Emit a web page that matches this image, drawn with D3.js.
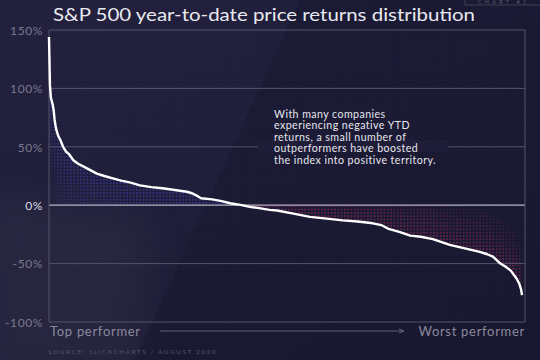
<!DOCTYPE html>
<html><head><meta charset="utf-8">
<script src="https://cdn.jsdelivr.net/npm/d3@7"></script>
<style>
html,body{margin:0;padding:0;background:#1e1c36;}
svg{display:block;}
text{font-family:"Lato","Noto Sans",sans-serif;}
</style></head>
<body>
<svg id="chart" width="540" height="360"></svg>
<script>
// ---- data ----
const ranks  = [1,2,3,5,6,7,8,9,11,13,16,19,22,27,32,38,45,52,60,69,78,87,98,110,122,135,148,154,160,163,175,185,194,205,215,225,236,244,260,279,297,314,330,346,355,362,375,386,397,410,428,444,460,468,474,482,488,493,499,502,504,505];
const returns = [144,103,92,86,81,73,68,64,59,56,50,46,44,38.5,35.5,33,30,27,25,23,21,19.5,17,15.5,14.5,13,11.5,10,7.5,6,5,3.5,1.7,0.3,-1.4,-2.5,-4,-4.5,-7,-10,-11.5,-13,-14,-15.5,-17,-20,-23,-26,-27,-29,-34,-37,-40,-42,-44,-50,-53,-56,-62.5,-67,-72,-77];
const yTicks = [150,100,50,0,-50,-100];
const yTickLabels = ["150%","100%","50%","0%","-50%","-100%"];
const title = "S&P 500 year-to-date price returns distribution";
const note = ["With many companies","experiencing negative YTD","returns, a small number of","outperformers have boosted","the index into positive territory."];
const xLabels = ["Top performer","Worst performer"];
const source = "SOURCE: SLICKCHARTS / AUGUST 2020";

const data = ranks.map((r,i)=>({r, v:returns[i]}));

const svg = d3.select("#chart");
const W=540,H=360;
const mLeft=49, mRight=525, mTop=30, mBottom=322;

const x = d3.scaleLinear().domain([1,505]).range([mLeft,522]);
const y = d3.scaleLinear().domain([-100,150]).range([mBottom,mTop]);

const defs = svg.append("defs");
const bg = defs.append("linearGradient").attr("id","bg").attr("x1",0).attr("y1",0).attr("x2",1).attr("y2",1);
bg.append("stop").attr("offset","0%").attr("stop-color","#23213e");
bg.append("stop").attr("offset","100%").attr("stop-color","#1b1a33");
defs.append("filter").attr("id","blur").attr("x","-50%").attr("y","-50%").attr("width","200%").attr("height","200%")
  .append("feGaussianBlur").attr("stdDeviation",18);
function dotPattern(id,color,r){
  const p=defs.append("pattern").attr("id",id).attr("patternUnits","userSpaceOnUse").attr("width",3.3).attr("height",3.3);
  p.append("circle").attr("cx",1.65).attr("cy",1.65).attr("r",r).attr("fill",color);
}
dotPattern("dotsBlue","#4644c4",0.9);
dotPattern("dotsRed","#b42c62",0.9);
dotPattern("dotsBg","#ffffff",0.5);

svg.append("rect").attr("width",W).attr("height",H).attr("fill","url(#bg)");
// lighter hazy patch bottom-left, darker diagonal wedge
svg.append("path").attr("d","M-20,190 L150,220 L140,380 L-20,380 Z").attr("fill","#3a384f").attr("opacity",0.3).attr("filter","url(#blur)");
svg.append("path").attr("d","M135,360 L300,0 L540,0 L540,360 Z").attr("fill","#15142a").attr("opacity",0.35);
svg.append("rect").attr("x",mLeft).attr("y",mTop-4).attr("width",mRight-mLeft).attr("height",mBottom-mTop+4).attr("fill","url(#dotsBg)").attr("opacity",0.05);

// title
svg.append("text").attr("x",53).attr("y",21).attr("fill","#e9e9f0").attr("font-size",18)
  .attr("textLength",422).attr("lengthAdjust","spacingAndGlyphs").text(title);

// chart # label box
svg.append("rect").attr("x",465).attr("y",-10).attr("width",80).attr("height",15).attr("fill","none").attr("stroke","#4a4960").attr("stroke-width",0.8);
svg.append("text").attr("x",478).attr("y",3.5).attr("fill","#5a596e").attr("font-size",5.5).attr("letter-spacing",3.2).text("CHART #1");

// gridlines
yTicks.forEach((t)=>{
  svg.append("line").attr("x1",mLeft).attr("x2",mRight).attr("y1",y(t)).attr("y2",y(t))
    .attr("stroke", t===0 ? "#b8b8c8" : "#55546c").attr("stroke-width", t===0?1.2:1);
});
// frame
svg.append("line").attr("x1",mLeft).attr("x2",mLeft).attr("y1",y(150)).attr("y2",mBottom).attr("stroke","#55546c");
svg.append("line").attr("x1",mRight).attr("x2",mRight).attr("y1",y(150)).attr("y2",mBottom).attr("stroke","#55546c");

// y axis labels via d3 axis
const yAxis = svg.append("g").attr("transform",`translate(${mLeft-6},0)`)
  .call(d3.axisLeft(y).tickValues(yTicks).tickFormat((d,i)=>yTickLabels[i]).tickSize(0).tickPadding(0));
yAxis.select(".domain").remove();
yAxis.selectAll("text").attr("font-size",12).attr("font-family","Lato, sans-serif").attr("letter-spacing",0.6)
  .attr("fill",d=>d===0?"#dcdce4":"#7a798e").attr("dy","0.35em");

// shaded bands
const bandsBlue=[12,24,38,55,72];
bandsBlue.forEach(d=>{
  const a=d3.area().x(p=>x(p.r)).y1(p=>y(p.v)).y0(p=>p.v>0?Math.min(y(0),y(p.v)+d):y(p.v));
  svg.append("path").datum(data).attr("d",a).attr("fill","url(#dotsBlue)").attr("opacity",0.17);
});
const bandsRed=[10,20,30,42];
bandsRed.forEach(d=>{
  const a=d3.area().x(p=>x(p.r)).y1(p=>y(p.v)).y0(p=>p.v<0?Math.max(y(0),y(p.v)-d):y(p.v));
  svg.append("path").datum(data).attr("d",a).attr("fill","url(#dotsRed)").attr("opacity",0.2);
});

// annotation (mask the gridline behind it)
svg.append("rect").attr("x",258).attr("y",140).attr("width",190).attr("height",12).attr("fill","#1f1d38");
note.forEach((s,i)=>{
  svg.append("text").attr("x",274).attr("y",117.5+i*11.6).attr("fill","#e6e6ee").attr("font-size",10.6).attr("letter-spacing",0.45).text(s);
});

// main line
const line=d3.line().x(p=>x(p.r)).y(p=>y(p.v));
svg.append("path").datum(data).attr("d",line).attr("fill","none").attr("stroke","#ffffff").attr("stroke-width",2.4).attr("stroke-linejoin","round");

// bottom labels
svg.append("text").attr("x",50).attr("y",335.5).attr("fill","#8a899c").attr("font-size",13).attr("letter-spacing",0.7).text(xLabels[0]);
svg.append("text").attr("x",525).attr("y",335.5).attr("text-anchor","end").attr("fill","#8a899c").attr("font-size",13).attr("letter-spacing",0.7).text(xLabels[1]);
svg.append("line").attr("x1",160).attr("x2",403).attr("y1",331).attr("y2",331).attr("stroke","#6a697e").attr("stroke-width",0.9);
svg.append("path").attr("d","M399,329 L404,331 L399,333").attr("fill","none").attr("stroke","#6a697e").attr("stroke-width",0.9);

svg.append("text").attr("x",48).attr("y",354).attr("fill","#55546a").attr("font-size",6.5).attr("letter-spacing",1.5).text(source);
</script>
</body></html>
